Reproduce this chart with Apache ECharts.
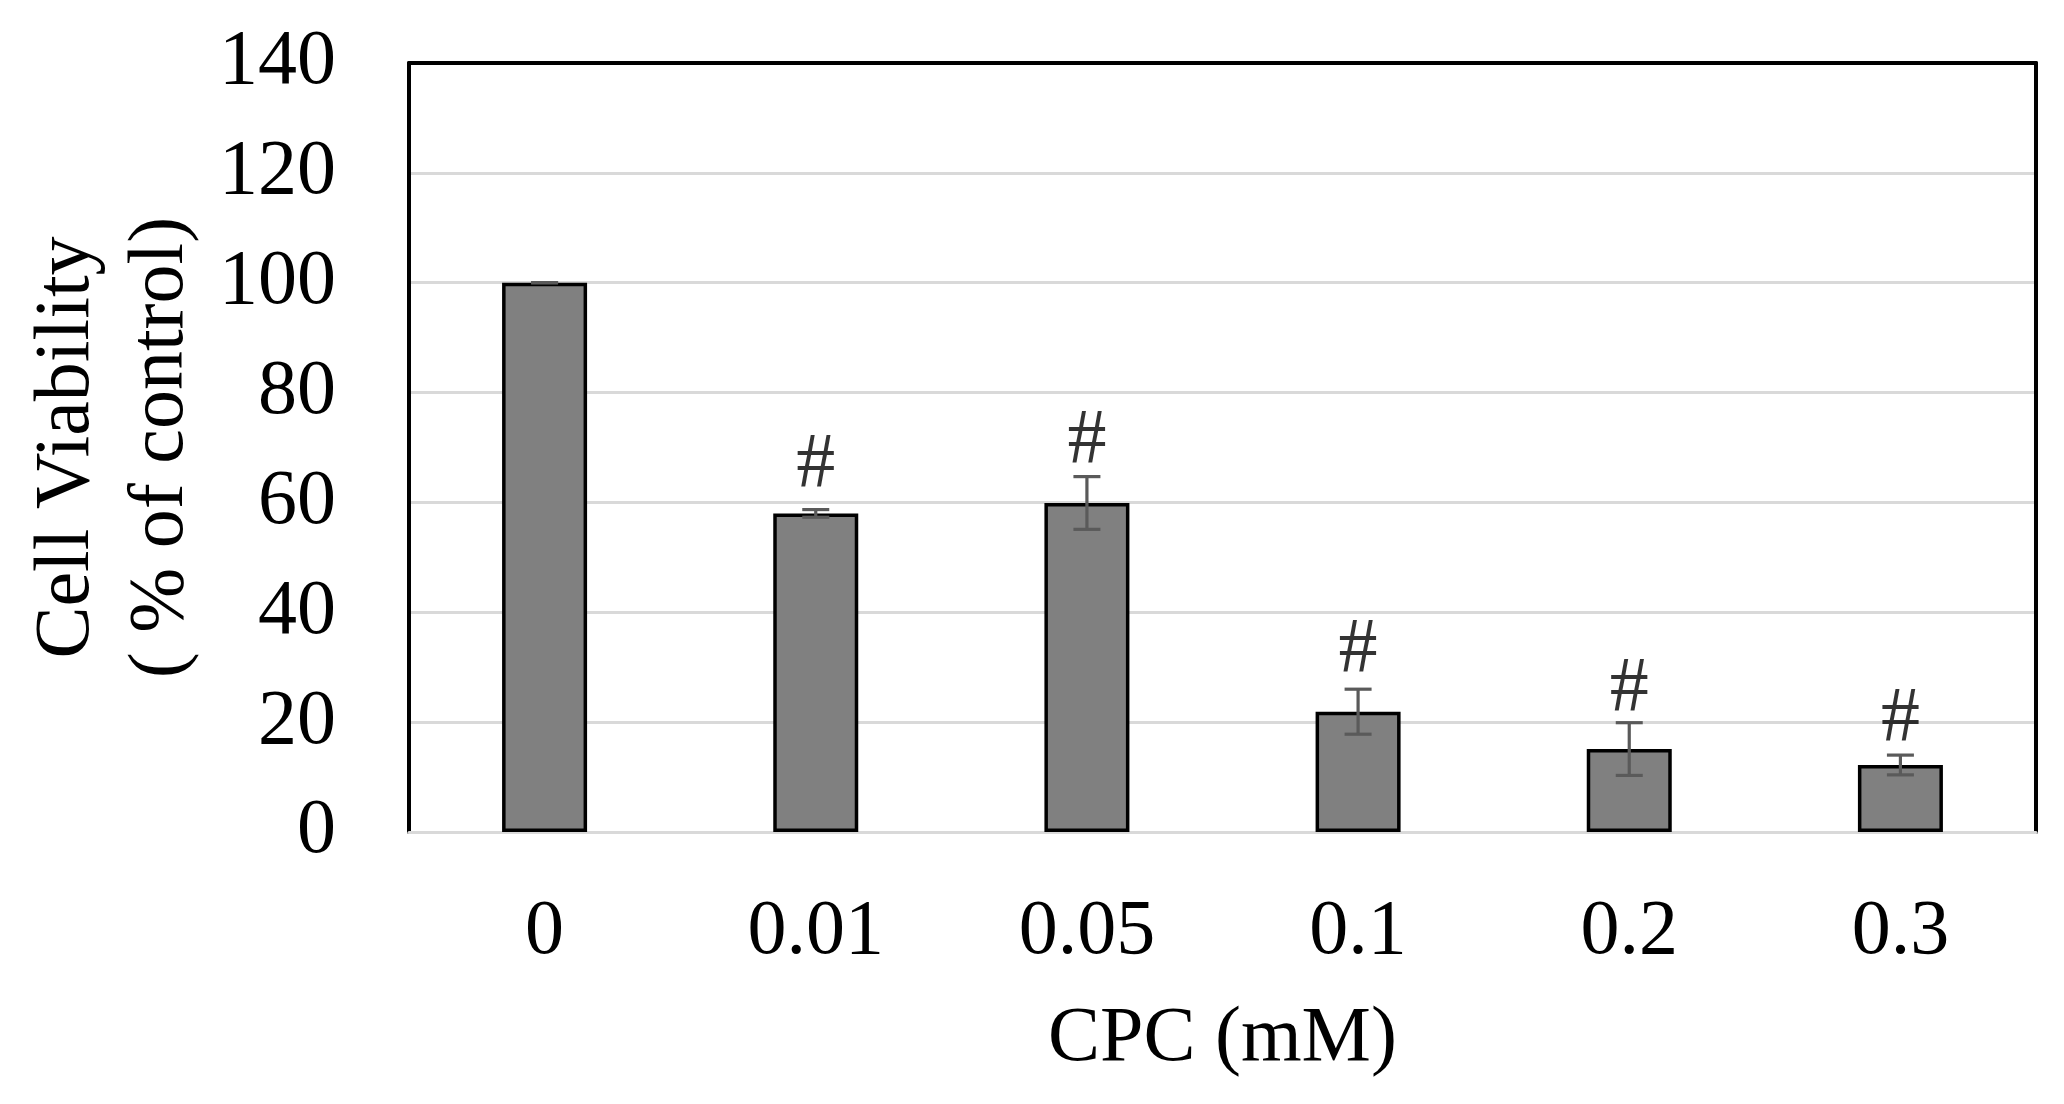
<!DOCTYPE html>
<html>
<head>
<meta charset="utf-8">
<script src="https://cdn.jsdelivr.net/npm/echarts@6/dist/echarts.min.js"></script>
<style>
html,body{margin:0;padding:0;background:#fff;}
#chart{width:2064px;height:1104px;}
</style>
</head>
<body>
<div id="chart"></div>
<script>
// ---- data ----
var categories = ['0', '0.01', '0.05', '0.1', '0.2', '0.3'];
var viability = [100, 58.0, 59.9, 21.9, 15.1, 12.2];
var errors = [0, 0.7, 4.8, 4.1, 4.8, 1.8];
var markLabels = ['', '#', '#', '#', '#', '#'];
var markY = [null, 66.7, 71.0, 33.0, 26.0, 20.5];
var yTicks = [0, 20, 40, 60, 80, 100, 120, 140];

var FONT = '"Liberation Serif", "Times New Roman", serif';
var FS = 78;

var chart = echarts.init(document.getElementById('chart'));

var errData = categories.map(function (c, i) {
  return [i, viability[i] - errors[i], viability[i] + errors[i]];
});
var markData = [];
categories.forEach(function (c, i) {
  if (markY[i] != null) markData.push({ value: [i, markY[i]], label: { formatter: markLabels[i] } });
});

chart.setOption({
  animation: false,
  backgroundColor: '#fff',
  grid: { left: 409, right: 28, top: 63, bottom: 272, containLabel: false },
  xAxis: [{
    type: 'category',
    data: categories,
    position: 'bottom',
    axisLine: { show: true, onZero: false, lineStyle: { color: '#d9d9d9', width: 3 } },
    axisTick: { show: false },
    axisLabel: { color: '#000', fontFamily: FONT, fontSize: FS, margin: 62 },
    name: 'CPC (mM)',
    nameLocation: 'middle',
    nameGap: 169,
    nameTextStyle: { color: '#000', fontFamily: FONT, fontSize: FS }
  }, {
    type: 'category',
    data: categories,
    position: 'top',
    axisLine: { show: true, onZero: false, lineStyle: { color: '#000', width: 4 } },
    axisTick: { show: false },
    axisLabel: { show: false }
  }],
  yAxis: [{
    type: 'value',
    min: yTicks[0],
    max: yTicks[yTicks.length - 1],
    interval: 20,
    position: 'left',
    axisLine: { show: true, onZero: false, lineStyle: { color: '#000', width: 4 } },
    axisTick: { show: false },
    axisLabel: { color: '#000', fontFamily: FONT, fontSize: FS, margin: 73 },
    splitLine: { show: true, lineStyle: { color: '#d9d9d9', width: 3 } },
    name: 'Cell Viability\n( % of control)',
    nameLocation: 'middle',
    nameGap: 199,
    nameRotate: 90,
    nameTextStyle: { color: '#000', fontFamily: FONT, fontSize: FS, lineHeight: 94, align: 'center' }
  }, {
    type: 'value',
    min: yTicks[0],
    max: yTicks[yTicks.length - 1],
    interval: 20,
    position: 'right',
    axisLine: { show: true, onZero: false, lineStyle: { color: '#000', width: 4 } },
    axisTick: { show: false },
    axisLabel: { show: false },
    splitLine: { show: false }
  }],
  series: [{
    type: 'bar',
    data: viability,
    barWidth: 85,
    itemStyle: { color: '#808080', borderColor: '#000', borderWidth: 3.5 },
    z: 2
  }, {
    type: 'custom',
    data: errData,
    z: 3,
    renderItem: function (params, api) {
      var x = api.value(0);
      var lo = api.coord([x, api.value(1)]);
      var hi = api.coord([x, api.value(2)]);
      var hw = 13.5;
      var st = { stroke: '#5a5a5a', lineWidth: 3.2 };
      return {
        type: 'group',
        children: [
          { type: 'line', shape: { x1: hi[0], y1: hi[1], x2: lo[0], y2: lo[1] }, style: st },
          { type: 'line', shape: { x1: hi[0] - hw, y1: hi[1], x2: hi[0] + hw, y2: hi[1] }, style: st },
          { type: 'line', shape: { x1: lo[0] - hw, y1: lo[1], x2: lo[0] + hw, y2: lo[1] }, style: st }
        ]
      };
    }
  }, {
    type: 'scatter',
    data: markData,
    symbolSize: 0,
    z: 4,
    label: {
      show: true,
      position: 'inside',
      color: '#000',
      fontFamily: FONT,
      fontSize: FS
    }
  }]
});
</script>
</body>
</html>
